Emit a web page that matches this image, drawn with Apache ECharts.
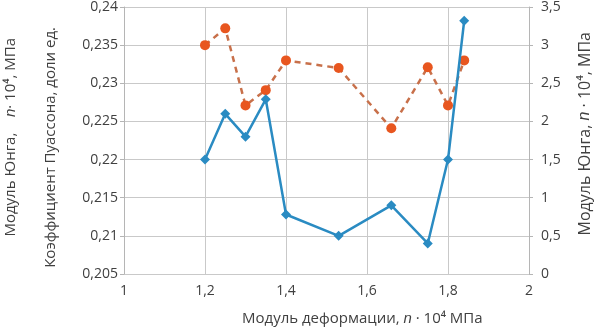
<!DOCTYPE html>
<html>
<head>
<meta charset="utf-8">
<script src="https://cdn.jsdelivr.net/npm/echarts@6/dist/echarts.min.js"></script>
<style>
html, body { margin: 0; padding: 0; background: #fff; }
#chart { width: 594px; height: 331px; }
</style>
</head>
<body>
<div id="chart"></div>
<script>
// модуль деформации, n·10^4 МПа
let xValues = [1.2, 1.25, 1.3, 1.35, 1.4, 1.53, 1.66, 1.75, 1.8, 1.84];
// коэффициент Пуассона (левая ось)
let poisson = [0.235, 0.2372, 0.2271, 0.2291, 0.233, 0.232, 0.2241, 0.2321, 0.2271, 0.233];
// модуль Юнга (правая ось)
let young = [1.5, 2.1, 1.8, 2.29, 0.78, 0.5, 0.9, 0.4, 1.5, 3.32];

let fontName = 'Open Sans';
let labelColor = '#404040';

function comma(v) {
    return String(+(+v).toFixed(3)).replace('.', ',');
}

let chart = echarts.init(document.getElementById('chart'));

chart.setOption({
    animation: false,
    textStyle: { fontFamily: fontName },
    grid: { left: 124, right: 65, top: 5, bottom: 57 },
    xAxis: {
        type: 'value',
        min: 1,
        max: 2,
        interval: 0.2,
        axisLine: { show: false },
        axisTick: { show: false },
        axisLabel: { color: labelColor, fontSize: 14, margin: 10, formatter: comma },
        splitLine: { lineStyle: { color: '#c9c9c9', width: 1 } }
    },
    yAxis: [
        {
            type: 'value',
            min: 0.205,
            max: 0.24,
            interval: 0.005,
            axisLine: { show: true, lineStyle: { color: '#b5b5b5' } },
            axisTick: { show: true, length: 4, lineStyle: { color: '#b5b5b5' } },
            axisLabel: { color: labelColor, fontSize: 14, margin: 6, formatter: comma },
            splitLine: { lineStyle: { color: '#c9c9c9', width: 1 } }
        },
        {
            type: 'value',
            min: 0,
            max: 3.5,
            interval: 0.5,
            position: 'right',
            axisLine: { show: true, lineStyle: { color: '#b5b5b5' } },
            axisTick: { show: true, length: 4, lineStyle: { color: '#b5b5b5' } },
            axisLabel: { color: labelColor, fontSize: 14, margin: 12, formatter: comma },
            splitLine: { show: false }
        }
    ],
    graphic: [
        {
            type: 'text',
            left: 3, top: 38,
            rotation: Math.PI / 2,
            style: {
                text: 'Модуль Юнга,    {i|n}· 10⁴, МПа',
                fill: labelColor,
                font: '15px ' + fontName,
                rich: { i: { fontStyle: 'italic', fontSize: 15, fill: labelColor } }
            }
        },
        {
            type: 'text',
            left: 43, top: 27,
            rotation: Math.PI / 2,
            style: {
                text: 'Коэффициент Пуассона, доли ед.',
                fill: labelColor,
                font: '15px ' + fontName
            }
        },
        {
            type: 'text',
            left: 577, top: 32,
            rotation: Math.PI / 2,
            style: {
                text: 'Модуль Юнга, {i|n} · 10⁴, МПа',
                fill: labelColor,
                font: '16px ' + fontName,
                rich: { i: { fontStyle: 'italic', fontSize: 16, fill: labelColor } }
            }
        },
        {
            type: 'text',
            left: 242, top: 311,
            style: {
                text: 'Модуль деформации, {i|n} · 10⁴ МПа',
                fill: labelColor,
                font: '15px ' + fontName,
                rich: { i: { fontStyle: 'italic', fontSize: 15, fill: labelColor } }
            }
        }
    ],
    series: [
        {
            type: 'line',
            yAxisIndex: 0,
            data: xValues.map(function (x, i) { return [x, poisson[i]]; }),
            lineStyle: { color: '#c8704a', width: 2.5, type: [6, 5] },
            itemStyle: { color: '#e8561f' },
            symbol: 'circle',
            symbolSize: 10,
            z: 2
        },
        {
            type: 'line',
            yAxisIndex: 1,
            data: xValues.map(function (x, i) { return [x, young[i]]; }),
            lineStyle: { color: '#2a8bc2', width: 2.5 },
            itemStyle: { color: '#2a8bc2' },
            symbol: 'diamond',
            symbolSize: 10,
            z: 3
        }
    ]
});
</script>
</body>
</html>
